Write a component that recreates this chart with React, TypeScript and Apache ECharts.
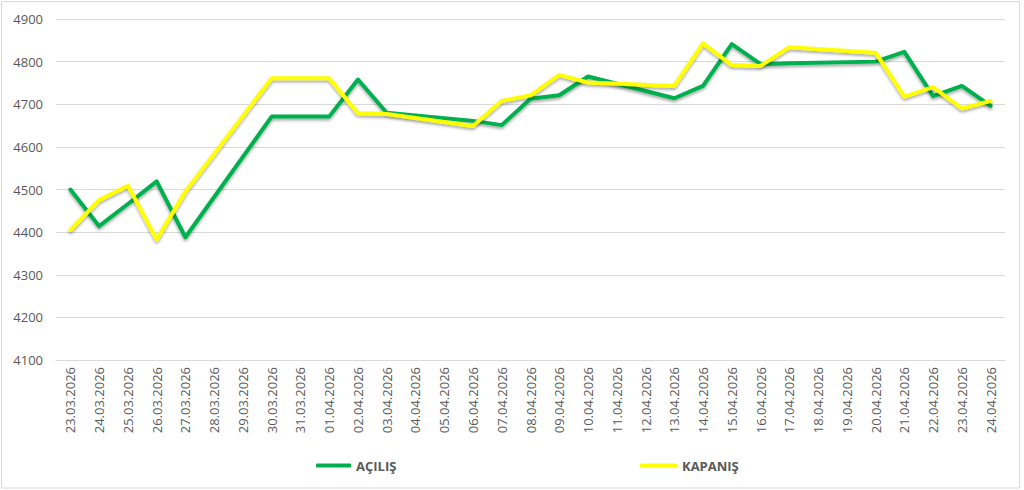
import * as echarts from 'echarts';
import { useEffect, useRef } from 'react';

const dates = [
  '23.03.2026', '24.03.2026', '25.03.2026', '26.03.2026', '27.03.2026', '28.03.2026',
  '29.03.2026', '30.03.2026', '31.03.2026', '01.04.2026', '02.04.2026', '03.04.2026',
  '04.04.2026', '05.04.2026', '06.04.2026', '07.04.2026', '08.04.2026', '09.04.2026',
  '10.04.2026', '11.04.2026', '12.04.2026', '13.04.2026', '14.04.2026', '15.04.2026',
  '16.04.2026', '17.04.2026', '18.04.2026', '19.04.2026', '20.04.2026', '21.04.2026',
  '22.04.2026', '23.04.2026', '24.04.2026',
];

// weekends have no value, the line just runs across them
const acilis = [
  4500, 4414, 4466, 4519, 4388, null,
  null, 4671, 4671, 4671, 4758, 4680,
  null, null, 4661, 4651, 4713, 4721,
  4765, null, null, 4714, 4743, 4841,
  4794, 4796, null, null, 4800, 4823,
  4719, 4743, 4696,
];

const kapanis = [
  4405, 4475, 4509, 4383, 4495, null,
  null, 4761, 4761, 4761, 4679, 4677,
  null, null, 4649, 4708, 4721, 4769,
  4751, null, null, 4743, 4843, 4792,
  4790, 4834, null, null, 4821, 4718,
  4740, 4690, 4708,
];

const FONT = '"Open Sans", sans-serif';
const GREY = '#595959';

function lineSeries(name: string, color: string, data: (number | null)[]) {
  return {
    name,
    type: 'line',
    data,
    connectNulls: true,
    showSymbol: false,
    symbol: 'none',
    lineStyle: {
      color,
      width: 4,
      cap: 'round',
      join: 'round',
      shadowColor: 'rgba(0,0,0,0.35)',
      shadowBlur: 3,
      shadowOffsetY: 2,
    },
    itemStyle: { color },
  };
}

function PriceChart() {
  const chartRef = useRef<HTMLDivElement>(null);

  useEffect(() => {
    const myChart = echarts.init(chartRef.current, null, { renderer: 'svg' });

    const legendText = { color: GREY, fontFamily: FONT, fontSize: 13, fontWeight: 'bold' };

    const option = {
      animation: false,
      backgroundColor: '#fff',
      grid: { left: 56, right: 19, top: 19, bottom: 130 },
      legend: [
        {
          data: ['AÇILIŞ'],
          left: 311,
          top: 454,
          icon: 'roundRect',
          itemWidth: 35,
          itemHeight: 4,
          textStyle: legendText,
        },
        {
          data: ['KAPANIŞ'],
          left: 635,
          top: 454,
          icon: 'roundRect',
          itemWidth: 37,
          itemHeight: 4,
          textStyle: legendText,
        },
      ],
      graphic: [
        {
          type: 'rect',
          shape: { x: 1.5, y: 1.5, width: 1018, height: 486.5 },
          style: { fill: 'none', stroke: '#d9d9d9', lineWidth: 1 },
          silent: true,
        },
      ],
      xAxis: {
        type: 'category',
        data: dates,
        boundaryGap: true,
        axisLine: { lineStyle: { color: '#d9d9d9', width: 1 } },
        axisTick: { show: false },
        axisLabel: {
          rotate: 90,
          interval: 0,
          margin: 7,
          color: GREY,
          fontFamily: FONT,
          fontSize: 13,
        },
      },
      yAxis: {
        type: 'value',
        min: 4100,
        max: 4900,
        interval: 100,
        axisLine: { show: false },
        axisTick: { show: false },
        axisLabel: {
          margin: 13,
          color: GREY,
          fontFamily: FONT,
          fontSize: 13,
          formatter: (v: number) => String(v),
        },
        splitLine: { lineStyle: { color: '#d9d9d9', width: 1 } },
      },
      series: [
        lineSeries('AÇILIŞ', '#00B050', acilis),
        lineSeries('KAPANIŞ', '#FFFF00', kapanis),
      ],
    };

    myChart.setOption(option);

    return () => {
      myChart.dispose();
    };
  }, []);

  return (
    <div
      ref={chartRef}
      style={{ position: 'absolute', left: 0, top: 0, width: '1024px', height: '490px' }}
    ></div>
  );
}

export default function App() {
  return <PriceChart />;
}
